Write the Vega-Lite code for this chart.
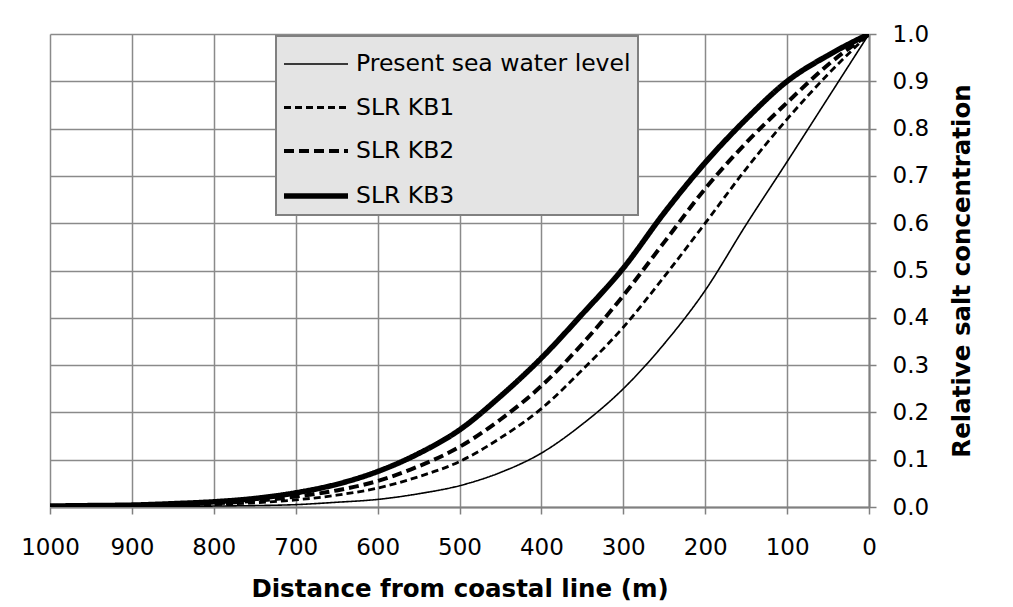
{
  "$schema": "https://vega.github.io/schema/vega-lite/v6.json",
  "width": 819,
  "height": 473,
  "autosize": {"type": "none"},
  "padding": {"left": 50, "top": 34, "right": 144, "bottom": 100},
  "background": "white",
  "config": {
    "font": "DejaVu Sans",
    "view": {"stroke": null},
    "legend": {"strokeWidth": 2},
    "axis": {
      "gridColor": "#8a8a8a",
      "gridWidth": 1.5,
      "domainColor": "#808080",
      "domainWidth": 2,
      "tickColor": "#808080",
      "tickWidth": 1.5,
      "tickSize": 7,
      "labelColor": "black",
      "titleColor": "black",
      "labelFont": "DejaVu Sans",
      "titleFont": "DejaVu Sans",
      "labelFontWeight": "normal",
      "titleFontWeight": "bold"
    }
  },
  "data": {
    "values": [
      {"d": 1000, "c": 0.000, "s": "Present sea water level"},
      {"d": 950, "c": 0.000, "s": "Present sea water level"},
      {"d": 900, "c": 0.001, "s": "Present sea water level"},
      {"d": 850, "c": 0.001, "s": "Present sea water level"},
      {"d": 800, "c": 0.002, "s": "Present sea water level"},
      {"d": 750, "c": 0.003, "s": "Present sea water level"},
      {"d": 700, "c": 0.005, "s": "Present sea water level"},
      {"d": 650, "c": 0.010, "s": "Present sea water level"},
      {"d": 600, "c": 0.016, "s": "Present sea water level"},
      {"d": 550, "c": 0.028, "s": "Present sea water level"},
      {"d": 500, "c": 0.045, "s": "Present sea water level"},
      {"d": 450, "c": 0.073, "s": "Present sea water level"},
      {"d": 400, "c": 0.114, "s": "Present sea water level"},
      {"d": 350, "c": 0.175, "s": "Present sea water level"},
      {"d": 300, "c": 0.250, "s": "Present sea water level"},
      {"d": 250, "c": 0.345, "s": "Present sea water level"},
      {"d": 200, "c": 0.458, "s": "Present sea water level"},
      {"d": 150, "c": 0.597, "s": "Present sea water level"},
      {"d": 100, "c": 0.730, "s": "Present sea water level"},
      {"d": 50, "c": 0.865, "s": "Present sea water level"},
      {"d": 0, "c": 1.000, "s": "Present sea water level"},
      {"d": 1000, "c": 0.001, "s": "SLR KB1"},
      {"d": 950, "c": 0.001, "s": "SLR KB1"},
      {"d": 900, "c": 0.002, "s": "SLR KB1"},
      {"d": 850, "c": 0.003, "s": "SLR KB1"},
      {"d": 800, "c": 0.005, "s": "SLR KB1"},
      {"d": 750, "c": 0.009, "s": "SLR KB1"},
      {"d": 700, "c": 0.015, "s": "SLR KB1"},
      {"d": 650, "c": 0.025, "s": "SLR KB1"},
      {"d": 600, "c": 0.040, "s": "SLR KB1"},
      {"d": 550, "c": 0.064, "s": "SLR KB1"},
      {"d": 500, "c": 0.096, "s": "SLR KB1"},
      {"d": 450, "c": 0.146, "s": "SLR KB1"},
      {"d": 400, "c": 0.208, "s": "SLR KB1"},
      {"d": 350, "c": 0.290, "s": "SLR KB1"},
      {"d": 300, "c": 0.380, "s": "SLR KB1"},
      {"d": 250, "c": 0.487, "s": "SLR KB1"},
      {"d": 200, "c": 0.600, "s": "SLR KB1"},
      {"d": 150, "c": 0.715, "s": "SLR KB1"},
      {"d": 100, "c": 0.820, "s": "SLR KB1"},
      {"d": 50, "c": 0.915, "s": "SLR KB1"},
      {"d": 0, "c": 1.000, "s": "SLR KB1"},
      {"d": 1000, "c": 0.001, "s": "SLR KB2"},
      {"d": 950, "c": 0.002, "s": "SLR KB2"},
      {"d": 900, "c": 0.003, "s": "SLR KB2"},
      {"d": 850, "c": 0.005, "s": "SLR KB2"},
      {"d": 800, "c": 0.008, "s": "SLR KB2"},
      {"d": 750, "c": 0.013, "s": "SLR KB2"},
      {"d": 700, "c": 0.022, "s": "SLR KB2"},
      {"d": 650, "c": 0.035, "s": "SLR KB2"},
      {"d": 600, "c": 0.055, "s": "SLR KB2"},
      {"d": 550, "c": 0.086, "s": "SLR KB2"},
      {"d": 500, "c": 0.127, "s": "SLR KB2"},
      {"d": 450, "c": 0.185, "s": "SLR KB2"},
      {"d": 400, "c": 0.256, "s": "SLR KB2"},
      {"d": 350, "c": 0.345, "s": "SLR KB2"},
      {"d": 300, "c": 0.447, "s": "SLR KB2"},
      {"d": 250, "c": 0.560, "s": "SLR KB2"},
      {"d": 200, "c": 0.673, "s": "SLR KB2"},
      {"d": 150, "c": 0.770, "s": "SLR KB2"},
      {"d": 100, "c": 0.855, "s": "SLR KB2"},
      {"d": 50, "c": 0.935, "s": "SLR KB2"},
      {"d": 0, "c": 1.000, "s": "SLR KB2"},
      {"d": 1000, "c": 0.002, "s": "SLR KB3"},
      {"d": 950, "c": 0.003, "s": "SLR KB3"},
      {"d": 900, "c": 0.004, "s": "SLR KB3"},
      {"d": 850, "c": 0.007, "s": "SLR KB3"},
      {"d": 800, "c": 0.011, "s": "SLR KB3"},
      {"d": 750, "c": 0.018, "s": "SLR KB3"},
      {"d": 700, "c": 0.030, "s": "SLR KB3"},
      {"d": 650, "c": 0.048, "s": "SLR KB3"},
      {"d": 600, "c": 0.075, "s": "SLR KB3"},
      {"d": 550, "c": 0.113, "s": "SLR KB3"},
      {"d": 500, "c": 0.163, "s": "SLR KB3"},
      {"d": 450, "c": 0.234, "s": "SLR KB3"},
      {"d": 400, "c": 0.315, "s": "SLR KB3"},
      {"d": 350, "c": 0.408, "s": "SLR KB3"},
      {"d": 300, "c": 0.505, "s": "SLR KB3"},
      {"d": 250, "c": 0.622, "s": "SLR KB3"},
      {"d": 200, "c": 0.728, "s": "SLR KB3"},
      {"d": 150, "c": 0.820, "s": "SLR KB3"},
      {"d": 100, "c": 0.900, "s": "SLR KB3"},
      {"d": 50, "c": 0.955, "s": "SLR KB3"},
      {"d": 0, "c": 1.000, "s": "SLR KB3"}
    ]
  },
  "mark": {"type": "line", "color": "black", "interpolate": "monotone", "clip": true},
  "encoding": {
    "x": {
      "field": "d",
      "type": "quantitative",
      "scale": {"domain": [0, 1000], "reverse": true, "nice": false},
      "axis": {
        "values": [0, 100, 200, 300, 400, 500, 600, 700, 800, 900, 1000],
        "format": "d",
        "title": "Distance from coastal line (m)",
        "labelFontSize": 23,
        "labelPadding": 22,
        "titleFontSize": 24.5,
        "titlePadding": 18,
        "labelFlush": false
      }
    },
    "y": {
      "field": "c",
      "type": "quantitative",
      "scale": {"domain": [0, 1], "nice": false},
      "axis": {
        "orient": "right",
        "values": [0, 0.1, 0.2, 0.3, 0.4, 0.5, 0.6, 0.7, 0.8, 0.9, 1.0],
        "format": ".1f",
        "title": "Relative salt concentration",
        "labelFontSize": 23,
        "labelPadding": 16,
        "titleFontSize": 24.5,
        "titleAngle": 270,
        "titleBaseline": "top",
        "titlePadding": 22,
        "labelFlush": false
      }
    },
    "strokeDash": {
      "field": "s",
      "type": "nominal",
      "scale": {
        "domain": ["Present sea water level", "SLR KB1", "SLR KB2", "SLR KB3"],
        "range": [[1, 0], [7, 4], [10, 5], [1, 0]]
      },
      "legend": {
        "title": null,
        "orient": "none",
        "legendX": 226,
        "legendY": 2,
        "fillColor": "#e4e4e4",
        "strokeColor": "#808080",
        "padding": 7,
        "symbolType": "M-1.1,0H2.1",
        "symbolSize": 1600,
        "symbolStrokeColor": "black",
        "labelFontSize": 23.5,
        "labelFont": "DejaVu Sans",
        "labelColor": "black",
        "labelOffset": 27,
        "rowPadding": 10,
        "labelLimit": 400
      }
    },
    "strokeWidth": {
      "field": "s",
      "type": "ordinal",
      "scale": {
        "type": "ordinal",
        "domain": ["Present sea water level", "SLR KB1", "SLR KB2", "SLR KB3"],
        "range": [1.6, 2.8, 4, 5.5]
      },
      "legend": null
    }
  }
}
